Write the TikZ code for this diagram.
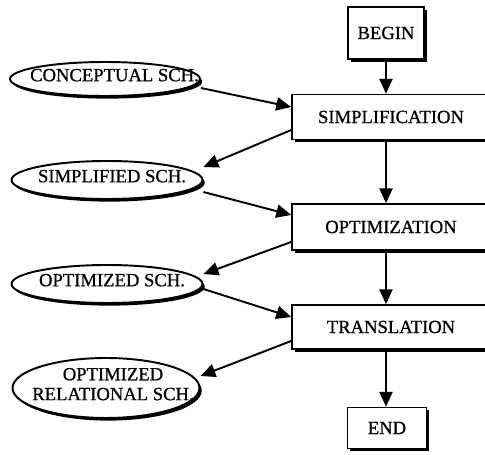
\documentclass[tikz,border=0pt]{standalone}
\usepackage{fontspec}
\setmainfont{Liberation Serif}[BoldFont={Liberation Serif}, BoldFeatures={FakeBold=0.8}]
\usetikzlibrary{arrows.meta,shapes.geometric,shadows}

% text that does not widen its ellipse; #1 moves it to the right
\newcommand{\schlabel}[2]{\makebox[0pt]{\hspace{#1}\raisebox{-0.33em}{\smash{\begin{tabular}{@{}c@{}}#2\end{tabular}}}}}

\tikzset{
  stepbox/.style={draw, rectangle, line width=0.9pt, fill=white, inner sep=0pt,
    drop shadow={shadow xshift=1.5pt, shadow yshift=-1.6pt, opacity=1, fill=black}},
  schema/.style={draw, ellipse, line width=1.1pt, fill=white, inner sep=0pt,
    drop shadow={shadow xshift=1.3pt, shadow yshift=-1.5pt, opacity=1, fill=black}},
  flow/.style={line width=1.1pt, -{Triangle[length=8.5pt,width=7.5pt]}}
}

\begin{document}
\begin{tikzpicture}[x=0.02cm, y=-0.02cm, font=\fontsize{10.6}{11.3}\selectfont\bfseries]
  \useasboundingbox (0,0) rectangle (485,455);
  % main column
  \node[stepbox, minimum width=1.52cm, minimum height=1.04cm] (begin) at (386,33) {BEGIN};
  \node[stepbox, minimum width=3.96cm, minimum height=0.9cm] (simp) at (391,117) {SIMPLIFICATION};
  \node[stepbox, minimum width=3.96cm, minimum height=0.92cm] (opt) at (391,227) {OPTIMIZATION};
  \node[stepbox, minimum width=3.96cm, minimum height=0.88cm] (trans) at (391,327) {TRANSLATION};
  \node[stepbox, minimum width=1.58cm, minimum height=0.82cm] (end) at (387,428) {END};
  % schemas
  \node[schema, minimum width=3.8cm, minimum height=0.68cm] (concept) at (105,79) {\schlabel{0.38cm}{CONCEPTUAL SCH.}};
  \node[schema, minimum width=3.82cm, minimum height=0.76cm] (simpsch) at (107,180) {\schlabel{0.2cm}{SIMPLIFIED SCH.}};
  \node[schema, minimum width=3.82cm, minimum height=0.76cm] (optsch) at (107,284) {\schlabel{0.2cm}{OPTIMIZED SCH.}};
  \node[schema, minimum width=3.74cm, minimum height=1.2cm] (relsch) at (106,388) {\schlabel{0.28cm}{OPTIMIZED\\RELATIONAL SCH.}};

  \draw[flow] (begin.south) -- (begin.south |- simp.north);
  \draw[flow] (begin.south |- simp.south) -- (begin.south |- opt.north);
  \draw[flow] (begin.south |- opt.south) -- (begin.south |- trans.north);
  \draw[flow] (begin.south |- trans.south) -- (begin.south |- end.north);

  \draw[flow] ([yshift=-0.18cm]concept.east) -- ([yshift=0.2cm]simp.west);
  \draw[flow] ([yshift=-0.26cm]simp.west) -- ([yshift=0.26cm]simpsch.east);
  \draw[flow] ([yshift=-0.24cm]simpsch.east) -- ([yshift=0.24cm]opt.west);
  \draw[flow] ([yshift=-0.3cm]opt.west) -- ([yshift=0.2cm]optsch.east);
  \draw[flow] ([yshift=-0.1cm]optsch.east) -- ([yshift=0.2cm]trans.west);
  \draw[flow] ([yshift=-0.28cm]trans.west) -- ([yshift=0.24cm]relsch.east);
\end{tikzpicture}
\end{document}
